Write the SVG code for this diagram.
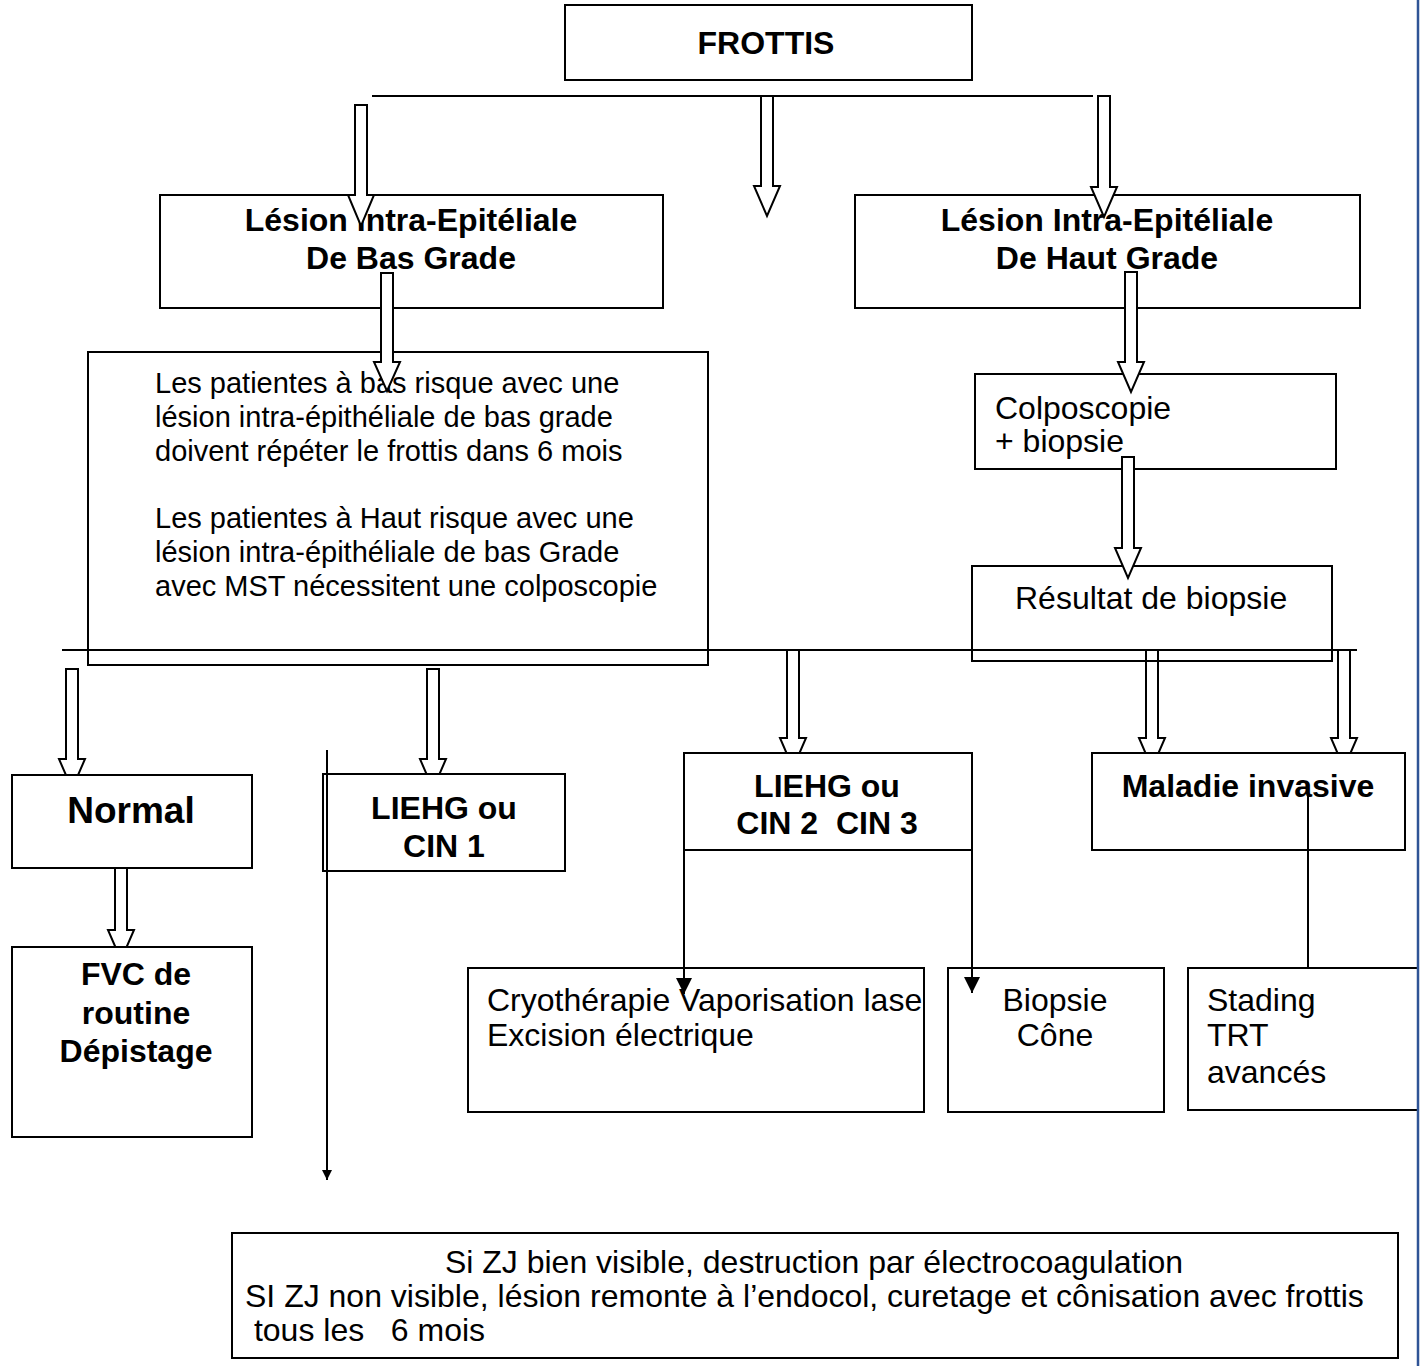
<svg xmlns="http://www.w3.org/2000/svg" width="1422" height="1366" viewBox="0 0 1422 1366">
  <defs>
    <style>
      .box { fill: #fff; stroke: #000; stroke-width: 2; }
      .open { fill: none; stroke: #000; stroke-width: 2; }
      .ln { fill: none; stroke: #000; stroke-width: 2; }
      .blk { fill: #fff; stroke: #000; stroke-width: 2; stroke-linejoin: miter; }
      .b { font-family: "Liberation Sans", Arial, sans-serif; font-weight: bold; font-size: 32px; fill: #000; }
      .r { font-family: "Liberation Sans", Arial, sans-serif; font-size: 32px; fill: #000; }
      .s { font-size: 29px; }
      .c { text-anchor: middle; }
    </style>
    <marker id="tri" viewBox="0 0 10 10" refX="10" refY="5" markerWidth="10" markerHeight="10" markerUnits="userSpaceOnUse" orient="auto">
      <path d="M0,0 L10,5 L0,10 Z" fill="#000"/>
    </marker>
    <marker id="tri2" viewBox="0 0 10 10" refX="10" refY="5" markerWidth="16" markerHeight="16" markerUnits="userSpaceOnUse" orient="auto">
      <path d="M0,0 L10,5 L0,10 Z" fill="#000"/>
    </marker>
  </defs>

  <rect width="1422" height="1366" fill="#fff"/>

  <!-- lower block arrows sit under the white boxes that cut their heads -->
  <g id="connectors-lower">
    <path class="blk" d="M66,669 H78 V759 H85 L72,789 L59,759 H66 Z"/>
    <path class="blk" d="M427,669 H439 V759 H446 L433,789 L420,759 H427 Z"/>
    <path class="blk" d="M787,650 H799 V738 H806 L793,768 L780,738 H787 Z"/>
    <path class="blk" d="M1146,650 H1158 V738 H1165 L1152,768 L1139,738 H1146 Z"/>
    <path class="blk" d="M1338,650 H1350 V738 H1357 L1344,768 L1331,738 H1338 Z"/>
    <path class="blk" d="M115,868 H127 V930 H134 L121,960 L108,930 H115 Z"/>
  </g>

  <g id="n-frottis">
    <rect class="box" x="565" y="5" width="407" height="75"/>
    <text class="b c" x="766" y="54">FROTTIS</text>
  </g>

  <g id="n-bas-grade">
    <rect class="box" x="160" y="195" width="503" height="113"/>
    <text class="b c" x="411" y="231">Lésion Intra-Epitéliale</text>
    <text class="b c" x="411" y="269">De Bas Grade</text>
  </g>

  <g id="n-haut-grade">
    <rect class="box" x="855" y="195" width="505" height="113"/>
    <text class="b c" x="1107" y="231">Lésion Intra-Epitéliale</text>
    <text class="b c" x="1107" y="269">De Haut Grade</text>
  </g>

  <g id="n-patientes">
    <rect class="open" x="88" y="352" width="620" height="313"/>
    <text class="r s" x="155" y="393">Les patientes à bas risque avec une</text>
    <text class="r s" x="155" y="427">lésion intra-épithéliale de bas grade</text>
    <text class="r s" x="155" y="461">doivent répéter le frottis dans 6 mois</text>
    <text class="r s" x="155" y="528">Les patientes à Haut risque avec une</text>
    <text class="r s" x="155" y="562">lésion intra-épithéliale de bas Grade</text>
    <text class="r s" x="155" y="596">avec MST nécessitent une colposcopie</text>
  </g>

  <g id="n-colposcopie">
    <rect class="box" x="975" y="374" width="361" height="95"/>
    <text class="r" x="995" y="419">Colposcopie</text>
    <text class="r" x="995" y="452">+ biopsie</text>
  </g>

  <g id="n-resultat">
    <rect class="open" x="972" y="566" width="360" height="95"/>
    <text class="r" x="1015" y="609">Résultat de biopsie</text>
  </g>

  <g id="n-normal">
    <rect class="box" x="12" y="775" width="240" height="93"/>
    <text class="b c" x="131" y="823" style="font-size:37px">Normal</text>
  </g>

  <g id="n-cin1">
    <rect class="box" x="323" y="774" width="242" height="97"/>
    <text class="b c" x="444" y="819">LIEHG ou</text>
    <text class="b c" x="444" y="857">CIN 1</text>
  </g>

  <g id="n-cin23">
    <rect class="box" x="684" y="753" width="288" height="97"/>
    <text class="b c" x="827" y="797">LIEHG ou</text>
    <text class="b c" x="827" y="834" xml:space="preserve">CIN 2  CIN 3</text>
  </g>

  <g id="n-invasive">
    <rect class="box" x="1092" y="753" width="313" height="97"/>
    <text class="b c" x="1248" y="797">Maladie invasive</text>
  </g>

  <g id="n-fvc">
    <rect class="box" x="12" y="947" width="240" height="190"/>
    <text class="b c" x="136" y="985">FVC de</text>
    <text class="b c" x="136" y="1024">routine</text>
    <text class="b c" x="136" y="1062">Dépistage</text>
  </g>

  <g id="n-cryo">
    <rect class="box" x="468" y="968" width="456" height="144"/>
    <text class="r" x="487" y="1011">Cryothérapie Vaporisation lase</text>
    <text class="r" x="487" y="1046">Excision électrique</text>
  </g>

  <g id="n-biopsie">
    <rect class="box" x="948" y="968" width="216" height="144"/>
    <text class="r c" x="1055" y="1011">Biopsie</text>
    <text class="r c" x="1055" y="1046">Cône</text>
  </g>

  <g id="n-stading">
    <rect class="box" x="1188" y="968" width="230" height="142"/>
    <text class="r" x="1207" y="1011">Stading</text>
    <text class="r" x="1207" y="1046">TRT</text>
    <text class="r" x="1207" y="1083">avancés</text>
  </g>

  <g id="n-zj">
    <rect class="box" x="232" y="1233" width="1166" height="125"/>
    <text class="r c" x="814" y="1273">Si ZJ bien visible, destruction par électrocoagulation</text>
    <text class="r" x="245" y="1307">SI ZJ non visible, lésion remonte à l’endocol, curetage et cônisation avec frottis</text>
    <text class="r" x="245" y="1341" xml:space="preserve"> tous les   6 mois</text>
  </g>

  <g id="connectors">
    <line class="ln" x1="372" y1="96" x2="1093" y2="96"/>
    <line class="ln" x1="62" y1="650" x2="1357" y2="650"/>
    <path class="blk" d="M355,105 H367 V195 H374 L361,226 L348,195 H355 Z"/>
    <path class="blk" d="M761,96 H773 V186 H780 L767,216 L754,186 H761 Z"/>
    <path class="blk" d="M1098,96 H1110 V187 H1117 L1104,217 L1091,187 H1098 Z"/>
    <path class="blk" d="M381,273 H393 V362 H400 L387,391 L374,362 H381 Z"/>
    <path class="blk" d="M1125,272 H1137 V362 H1144 L1131,392 L1118,362 H1125 Z"/>
    <path class="blk" d="M1122,457 H1134 V548 H1141 L1128,578 L1115,548 H1122 Z"/>
    <line class="ln" x1="327" y1="750" x2="327" y2="1180" marker-end="url(#tri)"/>
    <line class="ln" x1="684" y1="850" x2="684" y2="994" marker-end="url(#tri2)"/>
    <line class="ln" x1="972" y1="850" x2="972" y2="993" marker-end="url(#tri2)"/>
    <line class="ln" x1="1308" y1="795" x2="1308" y2="968"/>
  </g>

  <line x1="1418" y1="0" x2="1418" y2="1366" stroke="#2F5496" stroke-width="2.5"/>
</svg>
